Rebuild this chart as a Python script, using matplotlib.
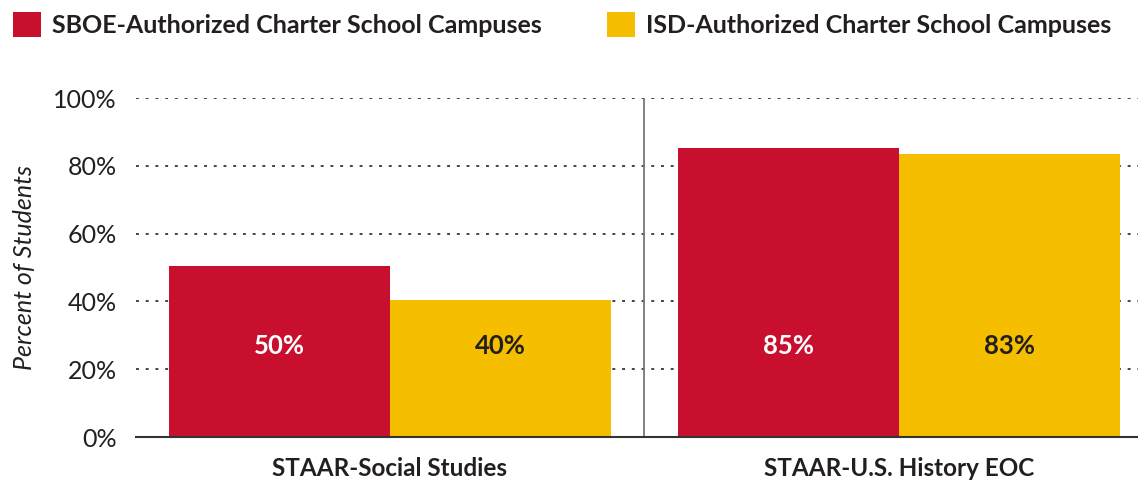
import numpy as np
import matplotlib.pyplot as plt

plt.rcParams['font.family'] = ['Lato', 'DejaVu Sans']

categories = ['STAAR-Social Studies', 'STAAR-U.S. History EOC']
series_names = ['SBOE-Authorized Charter School Campuses',
                'ISD-Authorized Charter School Campuses']
sboe = [50.4, 85.4]
isd = [40.4, 83.4]
label_text_sboe = ['50%', '85%']
label_text_isd = ['40%', '83%']
yticks = [0, 20, 40, 60, 80, 100]
ytick_labels = ['0%', '20%', '40%', '60%', '80%', '100%']

red = '#C8102E'
yellow = '#F5BF00'
dark = '#231F20'

fig = plt.figure(figsize=(11.38, 4.83), dpi=100)
ax = fig.add_axes([0.1195, 0.095, 0.8805, 0.702])

x = np.arange(len(categories))
w = 0.434
b1 = ax.bar(x - w / 2, sboe, w, color=red, label=series_names[0], zorder=3)
b2 = ax.bar(x + w / 2, isd, w, color=yellow, label=series_names[1], zorder=3)

for i in range(len(categories)):
    ax.text(x[i] - w / 2, 27, label_text_sboe[i], ha='center', va='center',
            color='white', fontsize=18.5, fontweight='bold', zorder=4)
    ax.text(x[i] + w / 2, 27, label_text_isd[i], ha='center', va='center',
            color=dark, fontsize=18.5, fontweight='bold', zorder=4)

ax.set_xlim(-0.499, 1.47)
ax.set_ylim(0, 100)
ax.set_yticks(yticks)
ax.set_yticklabels(ytick_labels, fontsize=18, color=dark)
ax.tick_params(axis='y', length=0, pad=14)
ax.set_xticks(x)
ax.set_xticklabels(categories, fontsize=17.5, fontweight='bold', color=dark)
ax.tick_params(axis='x', length=0, pad=14)

for yv in yticks[1:]:
    ax.axhline(yv, color='#444444', lw=1.4, ls=(0, (1.5, 3.5)), zorder=1)
ax.axvline(0.5, color='#777777', lw=1.3, zorder=2)

for s in ['top', 'right', 'left']:
    ax.spines[s].set_visible(False)
ax.spines['bottom'].set_color('#333333')
ax.spines['bottom'].set_linewidth(1.5)
ax.spines['bottom'].set_zorder(5)

ax.set_ylabel('Percent of Students', fontsize=18, fontstyle='italic',
              color=dark, labelpad=12)

leg = fig.legend(handles=[b1, b2], loc='upper left', bbox_to_anchor=(0.0, 1.0),
                 ncol=2, frameon=False, fontsize=18, handlelength=1.12,
                 handleheight=1.12, handletextpad=0.45, columnspacing=2.6,
                 borderaxespad=0.2, borderpad=0.3)
for t in leg.get_texts():
    t.set_fontweight('bold')
    t.set_color(dark)

fig.savefig('out.png', dpi=100)
